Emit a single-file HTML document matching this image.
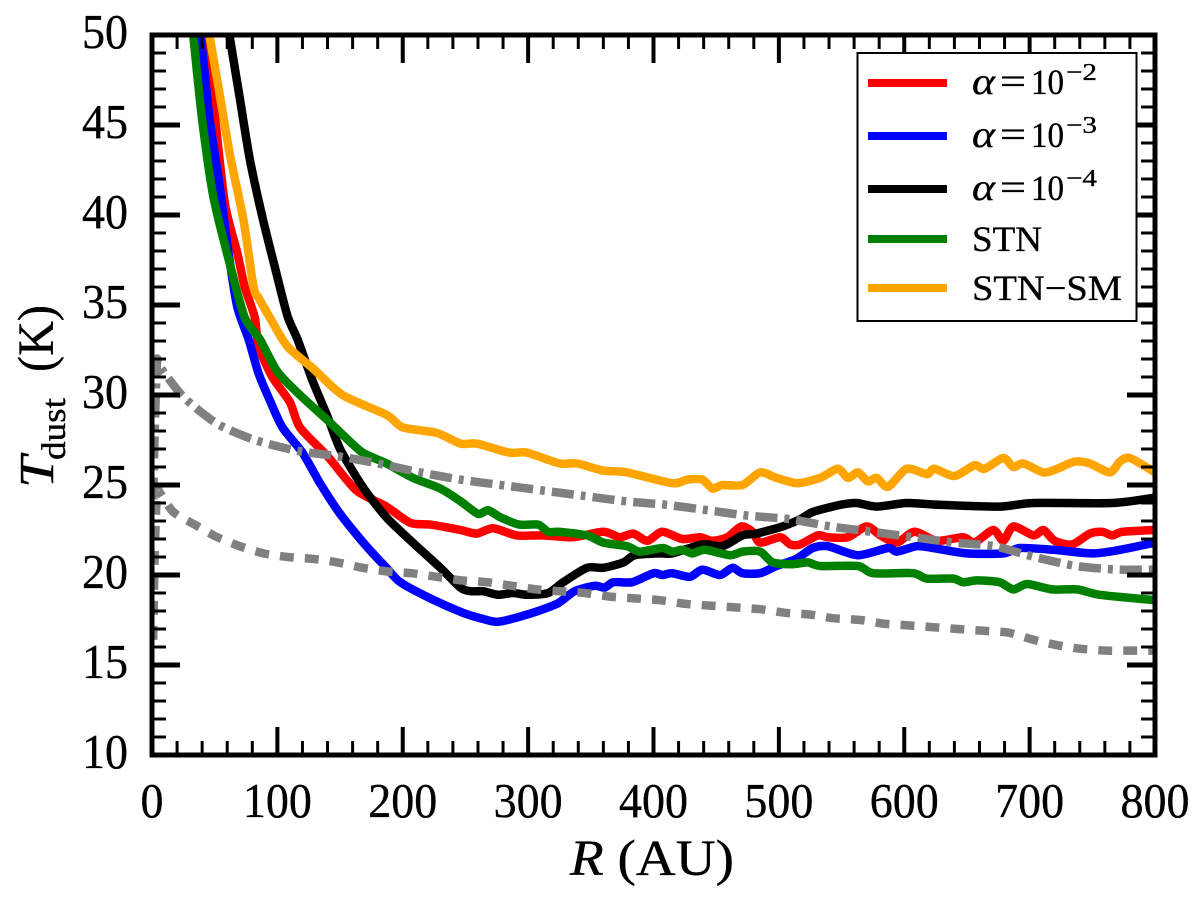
<!DOCTYPE html>
<html lang="en">
<head>
<meta charset="utf-8">
<title>Dust temperature versus radius</title>
<style>
  html, body { margin: 0; padding: 0; background: #fff; }
  svg { display: block; }
  text { font-family: "Liberation Serif", "DejaVu Serif", serif; fill: #000; stroke: #000; stroke-width: 0.35; }
</style>
</head>
<body>
<svg id="chart" xmlns="http://www.w3.org/2000/svg" width="1200" height="904" viewBox="0 0 1200 904">
  <defs>
    <clipPath id="plot-clip"><rect x="152" y="35" width="1003" height="720"></rect></clipPath>
  </defs>
  <rect x="152" y="35" width="1003" height="720" fill="#fff"></rect>
  <g id="series-layer" clip-path="url(#plot-clip)"></g>
  <g id="tick-layer"></g>
  <rect x="152" y="35" width="1003" height="720" fill="none" stroke="#000" stroke-width="5"></rect>
  <g id="label-layer"></g>

  <text x="570" y="875" font-size="51" textLength="164" lengthAdjust="spacingAndGlyphs"><tspan font-style="italic">R</tspan> (AU)</text>
  <g>
    <text transform="translate(53,488) rotate(-90)" font-size="49" font-style="italic" textLength="32" lengthAdjust="spacingAndGlyphs">T</text>
    <text transform="translate(65,460) rotate(-90)" font-size="34" textLength="62" lengthAdjust="spacingAndGlyphs">dust</text>
    <text transform="translate(53,372) rotate(-90)" font-size="51" textLength="67" lengthAdjust="spacingAndGlyphs">(K)</text>
  </g>

  <g>
    <rect x="857.5" y="53" width="279" height="268" fill="#fff" stroke="#000" stroke-width="2"></rect>
    <g>
      <rect x="868" y="79" width="79" height="8" fill="#ff0000"></rect>
      <text x="972" y="94" font-size="38" font-style="italic" textLength="23" lengthAdjust="spacingAndGlyphs">α</text>
      <text x="1000" y="94" font-size="38" textLength="26" lengthAdjust="spacingAndGlyphs">=</text>
      <text x="1031" y="94" font-size="36" textLength="33" lengthAdjust="spacingAndGlyphs">10</text>
      <text x="1066" y="80" font-size="24" textLength="31" lengthAdjust="spacingAndGlyphs">−2</text>
    </g>
    <g>
      <rect x="868" y="132" width="79" height="8" fill="#0000ff"></rect>
      <text x="972" y="147" font-size="38" font-style="italic" textLength="23" lengthAdjust="spacingAndGlyphs">α</text>
      <text x="1000" y="147" font-size="38" textLength="26" lengthAdjust="spacingAndGlyphs">=</text>
      <text x="1031" y="147" font-size="36" textLength="33" lengthAdjust="spacingAndGlyphs">10</text>
      <text x="1066" y="133" font-size="24" textLength="31" lengthAdjust="spacingAndGlyphs">−3</text>
    </g>
    <g>
      <rect x="868" y="185" width="79" height="8" fill="#000000"></rect>
      <text x="972" y="200" font-size="38" font-style="italic" textLength="23" lengthAdjust="spacingAndGlyphs">α</text>
      <text x="1000" y="200" font-size="38" textLength="26" lengthAdjust="spacingAndGlyphs">=</text>
      <text x="1031" y="200" font-size="36" textLength="33" lengthAdjust="spacingAndGlyphs">10</text>
      <text x="1066" y="186" font-size="24" textLength="31" lengthAdjust="spacingAndGlyphs">−4</text>
    </g>
    <g>
      <rect x="868" y="235" width="79" height="8" fill="#008000"></rect>
      <text x="972" y="251" font-size="36" textLength="70" lengthAdjust="spacingAndGlyphs">STN</text>
    </g>
    <g>
      <rect x="868" y="284" width="79" height="8" fill="#ffa500"></rect>
      <text x="972" y="300" font-size="36" textLength="150" lengthAdjust="spacingAndGlyphs">STN−SM</text>
    </g>
  </g>
</svg>
<script>
const xTickLabels = [0, 100, 200, 300, 400, 500, 600, 700, 800];
const yTickLabels = [10, 15, 20, 25, 30, 35, 40, 45, 50];
const xMinorStep = 20;
const yMinorStep = 1;

const alpha2Radius = [40,42,49,58,68,74,82,85,96,110,118,140,163,187,206,222,246,259,272,291,312,336,360,373,384,395,407,423,437,447,459,470,479,485,501,509,517,531,539,555,570,581,594,608,626,647,656,671,679,687,703,711,720,734,748,758,766,774,800];
const alpha2Temp = [51,49.7,46.2,40.7,37.9,36.0,34.3,32.7,31.0,29.6,28.2,26.6,24.7,23.8,22.9,22.8,22.5,22.3,22.6,22.2,22.2,22.1,22.4,22.1,22.3,21.9,22.4,22.0,22.1,21.9,22.1,22.7,22.4,21.8,22.1,21.7,21.7,22.2,22.1,22.1,22.7,22.2,21.8,22.4,21.9,22.1,21.8,22.5,21.9,22.7,22.2,22.5,21.9,21.7,22.3,22.4,22.2,22.4,22.5];

const alpha3Radius = [37,40,46,54,61,68,77,85,94,104,120,134,150,171,187,198,222,248,262,276,299,323,337,353,361,368,383,400,407,415,429,439,453,463,471,485,498,514,527,539,563,587,594,610,623,650,679,692,719,750,772,800];
const alpha3Temp = [51,49.2,45.3,41.6,37.9,34.9,33.1,31.2,29.7,28.2,26.8,25.1,23.4,21.6,20.4,19.6,18.7,17.9,17.6,17.4,17.8,18.4,19.1,19.4,19.3,19.6,19.6,20.1,20.0,20.1,19.9,20.3,20.0,20.4,20.1,20.1,20.5,20.9,21.5,21.6,21.1,21.5,21.3,21.6,21.5,21.2,21.2,21.5,21.4,21.2,21.4,21.8];

const alpha4Radius = [60,62,70,78,88,98,108,116,128,140,150,168,187,208,230,246,254,264,276,288,299,316,328,347,360,376,385,405,415,439,455,471,482,503,517,527,549,562,578,602,628,676,703,766,800];
const alpha4Temp = [51,49.9,46.5,43.1,39.9,37.1,34.4,33.1,30.8,28.8,27.0,24.9,23.2,21.8,20.4,19.3,19.1,19.1,18.9,19.0,18.9,19.0,19.6,20.4,20.4,20.7,21.1,21.2,21.2,21.7,21.6,22.2,22.3,22.7,23.1,23.5,23.9,24.0,23.8,24.0,23.9,23.8,24.0,24.0,24.3];

const stnRadius = [31,33,40,49,62,74,86,100,118,140,152,168,187,208,230,246,260,268,278,293,308,316,325,347,360,379,389,407,415,423,431,441,461,471,485,495,511,523,533,563,575,607,618,639,647,658,676,687,698,718,738,756,800];
const stnTemp = [51,49.9,45.3,41.0,37.3,34.3,33.1,31.3,30.0,28.6,27.8,26.8,26.2,25.4,24.8,24.1,23.4,23.6,23.2,22.8,22.8,22.4,22.4,22.2,21.8,21.6,21.3,21.5,21.3,21.4,21.2,21.4,21.1,21.3,21.3,20.7,20.6,20.7,20.5,20.5,20.1,20.1,19.8,19.8,19.6,19.7,19.6,19.2,19.5,19.2,19.2,18.9,18.6];

const stnSmRadius = [44,46,53,62,73,81,85,94,108,128,152,187,200,227,246,259,285,299,325,339,360,379,415,427,439,447,455,471,485,498,515,533,547,555,563,571,578,587,602,618,624,640,656,664,679,687,695,711,722,736,748,764,772,780,800];
const stnSmTemp = [51,49.9,47.1,43.4,39.7,36.0,35.4,34.3,32.7,31.5,30.0,28.9,28.2,27.9,27.3,27.3,26.8,26.8,26.2,26.2,25.8,25.7,25.1,25.3,25.3,24.8,25.0,25.0,25.7,25.4,25.1,25.4,25.9,25.4,25.7,25.2,25.4,24.9,25.9,25.6,25.9,25.5,26.1,25.9,26.5,26.0,26.2,25.7,25.9,26.3,26.2,25.7,26.3,26.5,25.7];

const dashDotRadius = [1,2,4,6,25,52,82,116,148,180,214,246,278,311,344,377,410,443,475,509,541,574,607,640,672,704,737,770,800];
const dashDotTemp = [24.2,27.5,31.8,31.6,29.9,28.4,27.5,26.9,26.6,26.2,25.7,25.3,25.0,24.7,24.4,24.1,23.9,23.6,23.3,23.1,22.7,22.4,22.1,21.8,21.6,21.0,20.5,20.3,20.3];

const dashedRadius = [1,2,4,6,17,34,52,70,89,108,128,148,168,187,207,227,247,267,287,307,325,345,365,385,405,425,445,465,485,505,525,543,565,583,603,623,643,663,683,703,722,741,761,780,800];
const dashedTemp = [16.4,20.8,24.7,24.6,23.5,22.8,22.1,21.6,21.2,21.0,20.9,20.7,20.4,20.2,20.1,19.9,19.7,19.6,19.4,19.2,19.1,19.0,18.8,18.7,18.6,18.4,18.3,18.2,18.1,17.9,17.8,17.6,17.5,17.3,17.2,17.1,17.0,16.9,16.8,16.4,16.1,15.9,15.8,15.8,15.8];

const SVG_NS = 'http://www.w3.org/2000/svg';
const xScale = function (r) { return 152 + r * (1003 / 800); };
const yScale = function (t) { return 755 - (t - 10) * (720 / 40); };

function linePath(radius, temp) {
  const n = Math.min(radius.length, temp.length);
  const pts = [];
  for (let i = 0; i < n; i++) {
    pts.push([xScale(radius[i]), yScale(temp[i])]);
  }
  let d = 'M' + pts[0][0].toFixed(2) + ' ' + pts[0][1].toFixed(2);
  for (let i = 0; i < n - 1; i++) {
    const p0 = pts[Math.max(i - 1, 0)];
    const p1 = pts[i];
    const p2 = pts[i + 1];
    const p3 = pts[Math.min(i + 2, n - 1)];
    const c1x = p1[0] + (p2[0] - p0[0]) / 8;
    const c1y = p1[1] + (p2[1] - p0[1]) / 8;
    const c2x = p2[0] - (p3[0] - p1[0]) / 8;
    const c2y = p2[1] - (p3[1] - p1[1]) / 8;
    d += 'C' + c1x.toFixed(2) + ' ' + c1y.toFixed(2) + ' ' + c2x.toFixed(2) + ' ' + c2y.toFixed(2) + ' ' + p2[0].toFixed(2) + ' ' + p2[1].toFixed(2);
  }
  return d;
}

function drawSeries(radius, temp, color, dash) {
  const p = document.createElementNS(SVG_NS, 'path');
  p.setAttribute('d', linePath(radius, temp));
  p.setAttribute('fill', 'none');
  p.setAttribute('stroke', color);
  p.setAttribute('stroke-width', '8.5');
  p.setAttribute('stroke-linejoin', 'round');
  if (dash) { p.setAttribute('stroke-dasharray', dash); }
  document.getElementById('series-layer').appendChild(p);
  return p;
}

function drawTick(x1, y1, x2, y2, w) {
  const l = document.createElementNS(SVG_NS, 'line');
  l.setAttribute('x1', x1);
  l.setAttribute('y1', y1);
  l.setAttribute('x2', x2);
  l.setAttribute('y2', y2);
  l.setAttribute('stroke', '#000');
  l.setAttribute('stroke-width', w);
  document.getElementById('tick-layer').appendChild(l);
  return l;
}

function drawLabel(str, x, y, anchor, len) {
  const t = document.createElementNS(SVG_NS, 'text');
  t.setAttribute('x', x);
  t.setAttribute('y', y);
  t.setAttribute('font-size', '49');
  t.setAttribute('text-anchor', anchor);
  t.setAttribute('textLength', len);
  t.setAttribute('lengthAdjust', 'spacingAndGlyphs');
  t.textContent = str;
  document.getElementById('label-layer').appendChild(t);
  return t;
}

let seriesEl;
seriesEl = drawSeries(alpha2Radius, alpha2Temp, '#ff0000');


seriesEl = drawSeries(alpha3Radius, alpha3Temp, '#0000ff');


seriesEl = drawSeries(alpha4Radius, alpha4Temp, '#000000');


seriesEl = drawSeries(stnRadius, stnTemp, '#008000');


seriesEl = drawSeries(stnSmRadius, stnSmTemp, '#ffa500');


seriesEl = drawSeries(dashDotRadius, dashDotTemp, '#808080', '22 7 5 7');


seriesEl = drawSeries(dashedRadius, dashedTemp, '#808080', '14 11');



const xMax = xTickLabels[xTickLabels.length - 1];
const yMin = yTickLabels[0];
const yMax = yTickLabels[yTickLabels.length - 1];

for (let r = 0; r <= xMax; r += xMinorStep) {
  const major = xTickLabels.indexOf(r) !== -1;
  const len = major ? 28 : 14;
  const w = major ? 4 : 3;
  const bottomTick = drawTick(xScale(r), 755, xScale(r), 755 - len, w);
  
  
  const topTick = drawTick(xScale(r), 35, xScale(r), 35 + len, w);
  
  
}

for (let t = yMin; t <= yMax; t += yMinorStep) {
  const major = yTickLabels.indexOf(t) !== -1;
  const len = major ? 28 : 14;
  const w = major ? 5 : 3;
  const leftTick = drawTick(152, yScale(t), 152 + len, yScale(t), w);
  
  
  const rightTick = drawTick(1155, yScale(t), 1155 - len, yScale(t), w);
  
  
}

xTickLabels.forEach(function (v) {
  const s = String(v);
  const label = drawLabel(s, xScale(v), 817, 'middle', s.length * 23);
  
  
});

yTickLabels.forEach(function (v) {
  const s = String(v);
  const label = drawLabel(s, 128, yScale(v) + 13, 'end', s.length * 23);
  
  
});
</script>
</body>
</html>
